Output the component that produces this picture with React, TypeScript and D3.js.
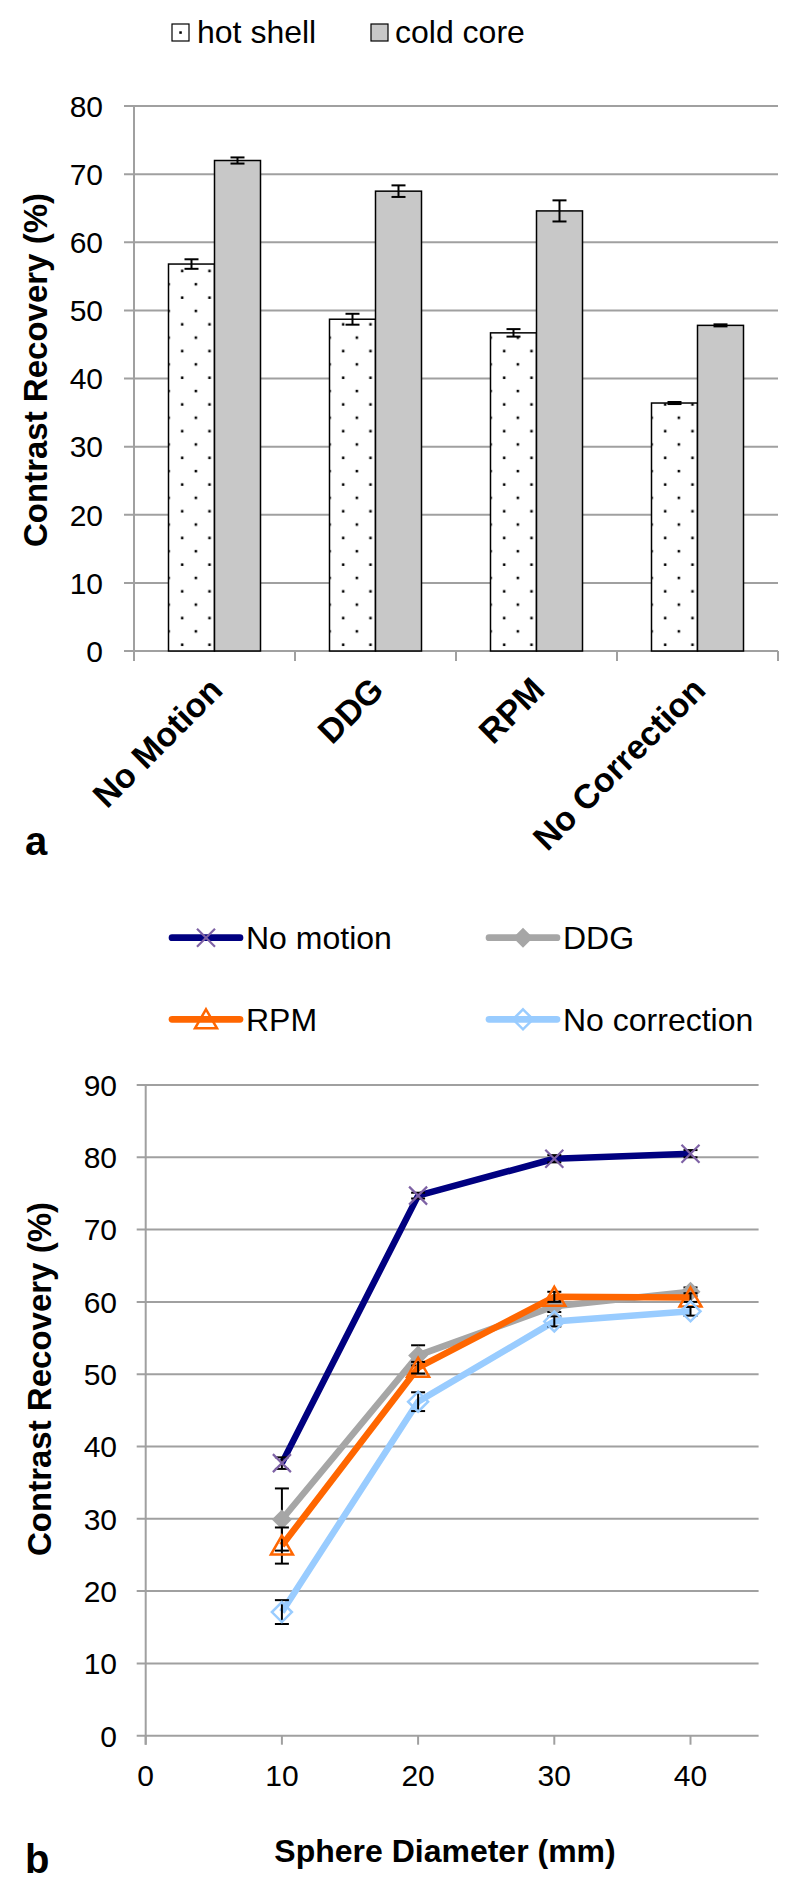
import React from "react";
import * as d3 from "d3";

// panel a: contrast recovery per correction method
const categoriesA = ["No Motion", "DDG", "RPM", "No Correction"];
const hotShell = [56.8, 48.7, 46.7, 36.4];
const hotShellErr = [0.7, 0.8, 0.55, 0.15];
const coldCore = [72.0, 67.5, 64.6, 47.8];
const coldCoreErr = [0.45, 0.85, 1.55, 0.15];
const yTicksA = [0, 10, 20, 30, 40, 50, 60, 70, 80];

// panel b: contrast recovery vs sphere diameter
const diameters = [10, 20, 30, 40];
const noMotion = [37.7, 74.7, 79.8, 80.5];
const noMotionErr = [0.8, 0.4, 0.5, 0.5];
const ddg = [29.9, 52.6, 59.4, 61.4];
const ddgErr = [4.3, 1.4, 0.8, 0.6];
const rpm = [26.3, 50.9, 60.7, 60.6];
const rpmErr = [2.5, 0.8, 0.7, 0.6];
const noCorrection = [17.1, 46.2, 57.3, 58.7];
const noCorrectionErr = [1.65, 1.3, 0.7, 0.6];
const yTicksB = [0, 10, 20, 30, 40, 50, 60, 70, 80, 90];
const xTicksB = [0, 10, 20, 30, 40];

const FONT = "'Liberation Sans', Arial, Helvetica, sans-serif";
const GRID = "#a0a0a0";

const seriesB = [
  { name: "No motion", values: noMotion, err: noMotionErr, color: "#000080", marker: "x" },
  { name: "DDG", values: ddg, err: ddgErr, color: "#a6a6a6", marker: "diamondFill" },
  { name: "RPM", values: rpm, err: rpmErr, color: "#ff6600", marker: "triangle" },
  { name: "No correction", values: noCorrection, err: noCorrectionErr, color: "#99ccff", marker: "diamond" },
];

const Marker = ({ type, x, y }) => {
  if (type === "x") {
    return (
      <path
        d={`M${x - 9},${y - 9}L${x + 9},${y + 9}M${x - 9},${y + 9}L${x + 9},${y - 9}`}
        stroke="#7e62a5"
        strokeWidth={2.2}
      />
    );
  }
  if (type === "diamondFill") {
    return <path d={`M${x},${y - 10}L${x + 10},${y}L${x},${y + 10}L${x - 10},${y}Z`} fill="#a6a6a6" />;
  }
  if (type === "triangle") {
    return (
      <path
        d={`M${x},${y - 10}L${x + 11},${y + 9}L${x - 11},${y + 9}Z`}
        fill="none"
        stroke="#ff6600"
        strokeWidth={2.5}
      />
    );
  }
  return (
    <path
      d={`M${x},${y - 10}L${x + 10},${y}L${x},${y + 10}L${x - 10},${y}Z`}
      fill="none"
      stroke="#99ccff"
      strokeWidth={2.5}
    />
  );
};

const App = () => {
  // ---- panel a scales
  const xA = d3.scaleBand().domain(categoriesA).range([134, 778]);
  const xSub = d3
    .scaleBand()
    .domain(["hot", "cold"])
    .range([0, xA.bandwidth()])
    .paddingInner(0)
    .paddingOuter(0.75);
  const yA = d3.scaleLinear().domain([0, 80]).range([651, 106]);
  const bw = xSub.bandwidth();
  const tileW = 27.3;
  const tileH = 26.7;

  // ---- panel b scales
  const xB = d3.scaleLinear().domain([0, 45]).range([145.7, 758.6]);
  const yB = d3.scaleLinear().domain([0, 90]).range([1735.7, 1085]);
  const line = d3
    .line()
    .x((d) => xB(d[0]))
    .y((d) => yB(d[1]));

  const legendB = [
    { x: 172, y: 937.7 },
    { x: 489, y: 937.7 },
    { x: 172, y: 1019.3 },
    { x: 489, y: 1019.3 },
  ];

  return (
    <>
      <style>{`body{margin:0}`}</style>
      <svg width={800} height={1894} style={{ display: "block" }} fontFamily={FONT}>
        <defs>
          {categoriesA.map((c, i) => (
            <pattern
              key={c}
              id={`dots-${i}`}
              patternUnits="userSpaceOnUse"
              x={xA(c) + xSub("hot")}
              y={yA(0)}
              width={tileW}
              height={tileH}
            >
              <rect x={tileW / 2 - 1.2} y={20.4 - 1.2} width={2.5} height={2.5} fill="#000" />
              <rect x={-1.2} y={7 - 1.2} width={2.5} height={2.5} fill="#000" />
              <rect x={tileW - 1.2} y={7 - 1.2} width={2.5} height={2.5} fill="#000" />
            </pattern>
          ))}
        </defs>

        {/* ================= panel a ================= */}
        <g>
          {/* legend */}
          <rect x={172} y={24} width={17} height={17} fill="#fff" stroke="#000" strokeWidth={1.2} />
          <rect x={179.3} y={31.3} width={2.5} height={2.5} fill="#000" />
          <text x={197} y={43.3} fontSize={32}>hot shell</text>
          <rect x={371} y={24} width={17} height={17} fill="#c8c8c8" stroke="#000" strokeWidth={1.2} />
          <text x={395} y={43.3} fontSize={32}>cold core</text>

          {/* gridlines + y labels */}
          {yTicksA.map((t) => (
            <g key={t}>
              <line x1={124} x2={778} y1={yA(t)} y2={yA(t)} stroke={GRID} strokeWidth={2} />
              <text x={103} y={yA(t)} dy="0.36em" textAnchor="end" fontSize={30}>
                {t}
              </text>
            </g>
          ))}
          <line x1={134} x2={134} y1={yA(80)} y2={yA(0) + 10} stroke={GRID} strokeWidth={2} />
          {categoriesA.map((c) => (
            <line key={c} x1={xA(c) + xA.bandwidth()} x2={xA(c) + xA.bandwidth()} y1={yA(0)} y2={yA(0) + 10} stroke={GRID} strokeWidth={2} />
          ))}

          {/* bars */}
          {categoriesA.map((c, i) => {
            const hx = xA(c) + xSub("hot");
            const cx = xA(c) + xSub("cold");
            return (
              <g key={c}>
                <rect x={hx} y={yA(hotShell[i])} width={bw} height={yA(0) - yA(hotShell[i])} fill="#fff" />
                <rect x={hx} y={yA(hotShell[i])} width={bw} height={yA(0) - yA(hotShell[i])} fill={`url(#dots-${i})`} stroke="#000" strokeWidth={1.5} />
                <rect x={cx} y={yA(coldCore[i])} width={bw} height={yA(0) - yA(coldCore[i])} fill="#c8c8c8" stroke="#000" strokeWidth={1.5} />
                {[
                  [hx, hotShell[i], hotShellErr[i]],
                  [cx, coldCore[i], coldCoreErr[i]],
                ].map(([bx, v, e], j) => {
                  const mx = bx + bw / 2;
                  return (
                    <g key={j} stroke="#000" strokeWidth={2}>
                      <line x1={mx} x2={mx} y1={yA(v + e)} y2={yA(v - e)} />
                      <line x1={mx - 7} x2={mx + 7} y1={yA(v + e)} y2={yA(v + e)} />
                      <line x1={mx - 7} x2={mx + 7} y1={yA(v - e)} y2={yA(v - e)} />
                    </g>
                  );
                })}
              </g>
            );
          })}

          {/* category labels */}
          {categoriesA.map((c) => {
            const ax = xA(c) + xA.bandwidth() / 2 + 10;
            const ay = 692;
            return (
              <text
                key={c}
                x={ax}
                y={ay}
                transform={`rotate(-45 ${ax} ${ay})`}
                textAnchor="end"
                fontSize={34}
                fontWeight="bold"
              >
                {c}
              </text>
            );
          })}

          {/* y title */}
          <text
            transform="translate(46.5 370) rotate(-90)"
            textAnchor="middle"
            fontSize={33}
            fontWeight="bold"
          >
            Contrast Recovery (%)
          </text>
          <text x={25} y={855} fontSize={40} fontWeight="bold">a</text>
        </g>

        {/* ================= panel b ================= */}
        <g>
          {/* legend */}
          {seriesB.map((s, i) => (
            <g key={s.name}>
              <line
                x1={legendB[i].x}
                x2={legendB[i].x + 68}
                y1={legendB[i].y}
                y2={legendB[i].y}
                stroke={s.color}
                strokeWidth={6.7}
                strokeLinecap="round"
              />
              <Marker type={s.marker} x={legendB[i].x + 34} y={legendB[i].y} />
              <text x={legendB[i].x + 74} y={legendB[i].y} dy="0.36em" fontSize={32}>
                {s.name}
              </text>
            </g>
          ))}

          {/* grid */}
          {yTicksB.map((t) => (
            <g key={t}>
              <line x1={136.7} x2={758.6} y1={yB(t)} y2={yB(t)} stroke={GRID} strokeWidth={2} />
              <text x={117} y={yB(t)} dy="0.36em" textAnchor="end" fontSize={30}>
                {t}
              </text>
            </g>
          ))}
          <line x1={xB(0)} x2={xB(0)} y1={yB(90)} y2={yB(0) + 9} stroke={GRID} strokeWidth={2} />
          {xTicksB.map((t) => (
            <g key={t}>
              <line x1={xB(t)} x2={xB(t)} y1={yB(0)} y2={yB(0) + 9} stroke={GRID} strokeWidth={2} />
              <text x={xB(t)} y={1786} textAnchor="middle" fontSize={30}>
                {t}
              </text>
            </g>
          ))}

          {/* series */}
          {seriesB.map((s) => {
            const pts = diameters.map((d, i) => [d, s.values[i]]);
            return (
              <g key={s.name}>
                <path d={line(pts)} fill="none" stroke={s.color} strokeWidth={6.5} strokeLinejoin="round" />
                {diameters.map((d, i) => {
                  const mx = xB(d);
                  const v = s.values[i];
                  const e = s.err[i];
                  return (
                    <g key={d} stroke="#000" strokeWidth={2}>
                      <line x1={mx} x2={mx} y1={yB(v + e)} y2={yB(v - e)} />
                      <line x1={mx - 7} x2={mx + 7} y1={yB(v + e)} y2={yB(v + e)} />
                      <line x1={mx - 7} x2={mx + 7} y1={yB(v - e)} y2={yB(v - e)} />
                    </g>
                  );
                })}
                {diameters.map((d, i) => (
                  <Marker key={d} type={s.marker} x={xB(d)} y={yB(s.values[i])} />
                ))}
              </g>
            );
          })}

          {/* titles */}
          <text
            transform="translate(50.5 1379) rotate(-90)"
            textAnchor="middle"
            fontSize={33}
            fontWeight="bold"
          >
            Contrast Recovery (%)
          </text>
          <text x={445} y={1862} textAnchor="middle" fontSize={32} fontWeight="bold">
            Sphere Diameter (mm)
          </text>
          <text x={25} y={1873} fontSize={40} fontWeight="bold">b</text>
        </g>
      </svg>
    </>
  );
};

export default App;
